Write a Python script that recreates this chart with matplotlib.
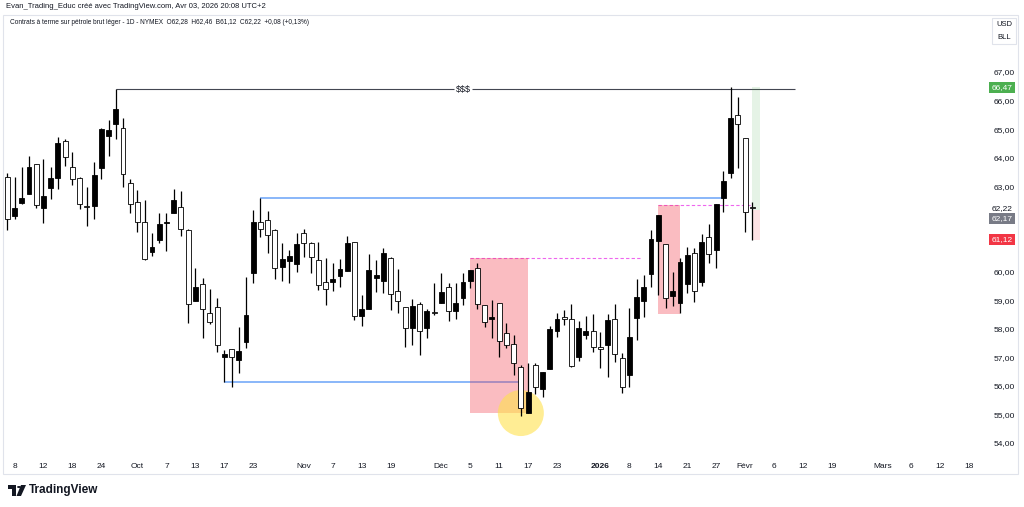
import matplotlib
matplotlib.use('Agg')
import matplotlib.pyplot as plt
import matplotlib.transforms as mtransforms
from matplotlib.patches import Rectangle, Ellipse, Polygon, Circle
import numpy as np
import pandas as pd

plt.rcParams['font.family'] = ['Liberation Sans Narrow', 'Liberation Sans', 'DejaVu Sans']

# CL1! daily, 5 sept 2025 -> 3 fevr 2026
opens = [63.32, 61.95, 62.41, 62.73, 63.78, 62.23, 62.94, 63.29, 64.58, 63.67,
         63.29, 62.30, 62.30, 63.64, 64.76, 65.18, 65.04, 63.11, 62.45, 61.74,
         60.69, 61.11, 61.70, 62.06, 62.27, 61.46, 58.98, 59.57, 58.56, 58.77,
         57.01, 57.29, 56.91, 57.54, 59.96, 61.74, 61.81, 61.46, 60.17, 60.38,
         60.27, 61.36, 61.01, 60.41, 59.64, 59.64, 59.85, 60.03, 61.04, 58.45,
         58.70, 59.78, 59.68, 60.48, 59.33, 58.77, 58.03, 58.87, 58.03, 58.58,
         58.91, 59.47, 58.63, 59.08, 59.68, 60.13, 58.84, 58.35, 58.91, 57.86,
         57.47, 56.66, 55.05, 56.73, 55.89, 56.59, 57.93, 58.42, 58.35, 57.01,
         57.78, 57.93, 57.36, 57.43, 58.35, 56.98, 56.38, 58.38, 58.98, 59.92,
         61.08, 60.97, 59.15, 58.91, 59.57, 60.66, 59.64, 61.22, 60.76, 62.59,
         63.46, 65.49, 64.69, 62.28]
highs = [63.46, 63.32, 63.67, 64.06, 63.78, 63.95, 63.67, 64.72, 64.65, 64.20,
         63.32, 62.97, 63.85, 65.04, 65.32, 66.40, 65.39, 63.25, 62.87, 62.52,
         61.36, 62.06, 62.06, 62.90, 62.83, 61.50, 60.13, 59.78, 59.40, 59.08,
         57.26, 57.29, 58.07, 59.82, 62.16, 62.59, 62.13, 61.50, 61.01, 60.76,
         61.36, 61.50, 61.04, 61.04, 60.48, 60.31, 60.45, 61.25, 61.04, 59.19,
         60.62, 60.41, 60.83, 60.52, 60.10, 58.77, 59.05, 58.94, 58.70, 59.61,
         59.96, 59.61, 59.61, 59.96, 60.06, 60.31, 58.84, 59.01, 58.91, 58.21,
         57.78, 56.73, 56.80, 56.80, 56.49, 58.10, 58.56, 58.66, 58.87, 58.28,
         58.45, 58.52, 57.89, 58.52, 58.87, 57.15, 58.73, 59.75, 59.89, 61.46,
         61.99, 60.97, 59.99, 60.48, 60.87, 60.83, 61.32, 61.67, 62.37, 63.53,
         66.47, 66.12, 64.69, 62.46]
lows = [61.46, 61.85, 62.37, 62.73, 62.23, 61.71, 62.55, 62.90, 63.71, 63.04,
        62.20, 61.60, 61.85, 63.25, 64.06, 64.65, 62.97, 62.06, 61.39, 60.41,
        60.55, 61.01, 60.73, 62.06, 61.25, 58.21, 58.98, 57.68, 58.17, 57.19,
        56.14, 55.96, 56.45, 57.33, 59.61, 61.22, 60.66, 59.75, 59.68, 59.61,
        59.99, 60.52, 59.96, 59.36, 58.84, 59.33, 59.47, 60.03, 58.31, 58.10,
        58.70, 59.29, 59.26, 58.66, 58.56, 57.36, 57.43, 57.08, 57.68, 58.49,
        58.91, 58.28, 58.35, 58.84, 59.43, 58.70, 58.07, 57.68, 57.01, 57.33,
        56.38, 54.95, 55.05, 55.72, 55.61, 56.59, 57.71, 58.14, 56.66, 56.87,
        57.64, 57.19, 56.63, 56.31, 56.84, 55.75, 55.96, 57.61, 58.42, 59.47,
        59.19, 58.73, 58.80, 58.56, 59.26, 58.94, 59.50, 60.31, 60.13, 62.09,
        63.29, 63.64, 61.39, 61.12]
closes = [61.85, 62.23, 62.59, 63.67, 62.34, 62.66, 63.29, 64.51, 64.02, 63.25,
          62.37, 62.27, 63.39, 65.00, 64.97, 65.70, 63.43, 62.37, 61.74, 60.45,
          60.87, 61.67, 61.73, 62.52, 61.50, 58.87, 59.47, 58.70, 58.24, 57.43,
          57.12, 57.01, 57.22, 58.49, 61.74, 61.50, 61.29, 60.13, 60.45, 60.55,
          60.97, 61.01, 60.52, 59.54, 59.40, 59.75, 60.10, 61.01, 58.45, 58.70,
          60.06, 59.89, 60.66, 59.22, 58.98, 58.03, 58.80, 57.93, 58.63, 58.56,
          59.29, 58.63, 58.91, 59.64, 60.06, 58.87, 58.24, 58.42, 57.57, 57.43,
          56.80, 55.23, 55.79, 55.96, 56.49, 58.00, 58.35, 58.35, 56.70, 58.03,
          57.93, 57.36, 57.29, 58.31, 57.12, 55.96, 57.71, 59.12, 59.47, 61.15,
          61.99, 59.08, 59.33, 60.34, 60.59, 59.33, 61.04, 60.62, 62.37, 63.18,
          65.39, 65.18, 62.09, 62.22]

holidays = ['2025-11-27', '2025-12-25', '2026-01-01', '2026-01-19', '2026-02-16']

tick_dates = ['2025-09-08', '2025-09-12', '2025-09-18', '2025-09-24', '2025-10-01',
              '2025-10-07', '2025-10-13', '2025-10-17', '2025-10-23', '2025-11-03',
              '2025-11-07', '2025-11-13', '2025-11-19', '2025-12-01', '2025-12-05',
              '2025-12-11', '2025-12-17', '2025-12-23', '2026-01-02', '2026-01-08',
              '2026-01-14', '2026-01-21', '2026-01-27', '2026-02-02', '2026-02-06',
              '2026-02-12', '2026-02-19', '2026-03-02', '2026-03-06', '2026-03-12',
              '2026-03-18']
tick_labels = ['8', '12', '18', '24', 'Oct', '7', '13', '17', '23', 'Nov', '7', '13',
               '19', 'Déc', '5', '11', '17', '23', '2026', '8', '14', '21', '27',
               'Févr', '6', '12', '19', 'Mars', '6', '12', '18']
# 61 and 62 are hidden behind the price badges
price_ticks = [54, 55, 56, 57, 58, 59, 60, 63, 64, 65, 66, 67]

# drawings
liq_level = 66.40            # $$$
range_high = 62.59
range_low = 56.14
ob1_low, ob1_high = 55.05, 60.48
ob2_low, ob2_high = 58.52, 62.34
entry, target, stop = 62.16, 66.47, 61.12

days = pd.bdate_range('2025-09-05', '2026-03-31')
days = days[~days.isin(pd.to_datetime(holidays))]


def idx(d):
    return int(days.get_loc(pd.Timestamp(d)))


W, H = 1024, 507
fig = plt.figure(figsize=(W / 100, H / 100), dpi=100)
fig.patch.set_facecolor('white')

ax_l, ax_r, ax_t, ax_b = 3, 980, 45, 455
ax = fig.add_axes([ax_l / W, 1 - ax_b / H, (ax_r - ax_l) / W, (ax_b - ax_t) / H])
px_bar = 7.233
px_unit = 28.54
ax.set_xlim((ax_l - 7.3) / px_bar, (ax_r - 7.3) / px_bar)
ax.set_ylim(67 - (ax_b - 72) / px_unit, 67 + (72 - ax_t) / px_unit)
for s in ax.spines.values():
    s.set_visible(False)

x = np.arange(len(opens))
o = np.array(opens)
c = np.array(closes)
up = c >= o

# boxes
ax.add_patch(Rectangle((idx('2025-12-05'), ob1_low), idx('2025-12-17') - idx('2025-12-05'),
                       ob1_high - ob1_low, color='#f23645', alpha=0.33, lw=0, zorder=2))
ax.add_patch(Rectangle((idx('2026-01-14'), ob2_low), idx('2026-01-20') - idx('2026-01-14'),
                       ob2_high - ob2_low, color='#f23645', alpha=0.33, lw=0, zorder=2))
# long position tool
lp0 = idx('2026-02-03')
ax.add_patch(Rectangle((lp0, entry), 1.1, target - entry, color='#4caf50', alpha=0.14, lw=0, zorder=2))
ax.add_patch(Rectangle((lp0, stop), 1.1, entry - stop, color='#f23645', alpha=0.14, lw=0, zorder=2))

# yellow circle
r_px = 23
ax.add_patch(Ellipse((idx('2025-12-16'), 55.05), 2 * r_px / px_bar, 2 * r_px / px_unit,
                     color='#ffe14d', alpha=0.6, lw=0, zorder=2.5))

# lines
ax.hlines(range_high, idx('2025-10-24'), idx('2026-01-28'), color='#6aa3f8', lw=1.1, zorder=1.5)
ax.hlines(range_low, idx('2025-10-17'), idx('2025-12-16'), color='#6aa3f8', lw=1.1, zorder=1.5)
ax.hlines(ob1_high, idx('2025-12-05'), idx('2026-01-09') + 0.5, color='#ee66ee', lw=0.8,
          linestyles=(0, (3, 2)), zorder=1.5)
ax.hlines(ob2_high, idx('2026-01-14'), idx('2026-02-03'), color='#ee66ee', lw=0.8,
          linestyles=(0, (3, 2)), zorder=1.5)
mid = idx('2025-12-04')
ax.hlines(liq_level, idx('2025-09-26'), mid - 1.25, color='#434651', lw=0.8, zorder=1.5)
ax.hlines(liq_level, mid + 1.25, idx('2026-02-10') + 0.9, color='#434651', lw=0.8, zorder=1.5)
ax.text(mid, liq_level, '$$$', ha='center', va='center', fontsize=6.5, color='#131722', zorder=3)

# candles
ax.vlines(x, lows, highs, color='#000000', lw=0.9, zorder=3)
body_lo = np.minimum(o, c)
body_h = np.maximum(np.abs(c - o), 0.03)
ax.bar(x[up], body_h[up], bottom=body_lo[up], width=0.68, color='#000000',
       edgecolor='#000000', lw=0.6, zorder=4)
ax.bar(x[~up], body_h[~up], bottom=body_lo[~up], width=0.68, color='white',
       edgecolor='#000000', lw=0.6, zorder=4)

# axes ticks
ax.set_xticks([idx(d) for d in tick_dates])
ax.set_xticklabels(tick_labels)
for lab, t in zip(ax.get_xticklabels(), tick_labels):
    if t == '2026':
        lab.set_fontweight('bold')
ax.tick_params(axis='x', length=0, pad=6, labelsize=6, labelcolor='#131722')
ax.yaxis.tick_right()
ax.set_yticks(price_ticks)
ax.set_yticklabels([('%.2f' % p).replace('.', ',') for p in price_ticks])
ax.tick_params(axis='y', length=0, pad=9.5, labelsize=6, labelcolor='#131722')

# price badges
bt = mtransforms.blended_transform_factory(fig.transFigure, ax.transData)
bx = 1002 / W
ax.text(bx, 62.22, '62,22', transform=bt, ha='center', va='center', fontsize=6,
        color='#131722', clip_on=False)
ax.annotate('62,17', (bx, 62.17), xycoords=bt, xytext=(0, -6.5), textcoords='offset points',
            ha='center', va='center', fontsize=6, color='white', annotation_clip=False,
            bbox=dict(boxstyle='square,pad=0.25', fc='#787b86', ec='none'))
for val, col in [(66.47, '#4caf50'), (61.12, '#f23645')]:
    ax.text(bx, val, ('%.2f' % val).replace('.', ','), transform=bt, ha='center', va='center',
            fontsize=6, color='white', clip_on=False,
            bbox=dict(boxstyle='square,pad=0.25', fc=col, ec='none'))


def fx(p):
    return p / W


def fy(p):
    return 1 - p / H


# frame and currency box
fig.add_artist(Rectangle((fx(3), fy(474)), fx(1015), 459 / H, transform=fig.transFigure,
                         fill=False, ec='#e0e3eb', lw=0.8))
fig.add_artist(Rectangle((fx(992), fy(44)), fx(24), 26 / H, transform=fig.transFigure,
                         fill=False, ec='#e0e3eb', lw=0.8))
fig.text(fx(1004), fy(24), 'USD', ha='center', va='center', fontsize=5.5, color='#131722')
fig.text(fx(1004), fy(38), 'BLL', ha='center', va='center', fontsize=5.5, color='#131722')

# header
fig.text(fx(6), fy(7), 'Evan_Trading_Educ créé avec TradingView.com, Avr 03, 2026 20:08 UTC+2',
         ha='left', va='center', fontsize=5.5, color='#131722')
fig.text(fx(10), fy(23), 'Contrats à terme sur pétrole brut léger - 1D - NYMEX  O62,28  H62,46  '
         'B61,12  C62,22  +0,08 (+0,13%)', ha='left', va='center', fontsize=4.7, color='#131722')

# TradingView logo
fig.add_artist(Polygon([(fx(8), fy(485)), (fx(16), fy(485)), (fx(16), fy(496)), (fx(12), fy(496)),
                        (fx(12), fy(489)), (fx(8), fy(489))], closed=True, transform=fig.transFigure,
                       fc='#131722', ec='none'))
fig.add_artist(Circle((fx(19), fy(487)), 2 / W, transform=fig.transFigure, fc='#131722', ec='none'))
fig.add_artist(Polygon([(fx(21), fy(485)), (fx(26), fy(485)), (fx(21), fy(496)), (fx(16.5), fy(496))],
                       closed=True, transform=fig.transFigure, fc='#131722', ec='none'))
fig.text(fx(29), fy(490), 'TradingView', ha='left', va='center', fontsize=8.5,
         fontweight='bold', color='#131722')

fig.savefig('out.png', dpi=100)
